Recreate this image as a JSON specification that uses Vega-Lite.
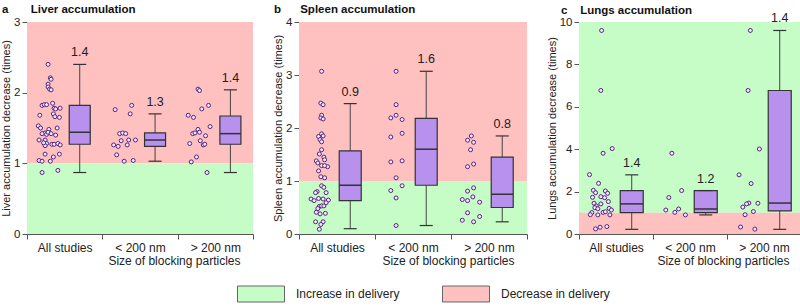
{
"$schema": "https://vega.github.io/schema/vega-lite/v6.json",
"padding": {"left": 0, "top": 4, "right": 0, "bottom": 0},
"spacing": 18,
"datasets": {
"zones": [
{"p":"a","zone":"Decrease in delivery","y0":1,"y1":3},{"p":"a","zone":"Increase in delivery","y0":0,"y1":1},
{"p":"b","zone":"Decrease in delivery","y0":1,"y1":4},{"p":"b","zone":"Increase in delivery","y0":0,"y1":1},
{"p":"c","zone":"Increase in delivery","y0":1,"y1":10},{"p":"c","zone":"Decrease in delivery","y0":0,"y1":1}
],
"boxes": [
{"p":"a","g":"All studies","lo":0.87,"q1":1.27,"med":1.44,"q3":1.82,"hi":2.40,"lab":"1.4"},
{"p":"a","g":"< 200 nm","lo":1.03,"q1":1.24,"med":1.33,"q3":1.43,"hi":1.70,"lab":"1.3"},
{"p":"a","g":"> 200 nm","lo":0.87,"q1":1.27,"med":1.42,"q3":1.67,"hi":2.04,"lab":"1.4"},
{"p":"b","g":"All studies","lo":0.10,"q1":0.63,"med":0.92,"q3":1.57,"hi":2.46,"lab":"0.9"},
{"p":"b","g":"< 200 nm","lo":0.16,"q1":0.92,"med":1.60,"q3":2.18,"hi":3.07,"lab":"1.6"},
{"p":"b","g":"> 200 nm","lo":0.23,"q1":0.50,"med":0.75,"q3":1.45,"hi":1.85,"lab":"0.8"},
{"p":"c","g":"All studies","lo":0.22,"q1":1.01,"med":1.42,"q3":2.05,"hi":2.79,"lab":"1.4"},
{"p":"c","g":"< 200 nm","lo":0.90,"q1":1.01,"med":1.18,"q3":2.05,"hi":2.05,"lab":"1.2"},
{"p":"c","g":"> 200 nm","lo":0.22,"q1":1.09,"med":1.46,"q3":6.77,"hi":9.60,"lab":"1.4"}
],
"points": [
{"p":"a","g":"All studies","v":2.40,"j":0.28},{"p":"a","g":"All studies","v":2.21,"j":0.31},{"p":"a","g":"All studies","v":2.19,"j":0.32},{"p":"a","g":"All studies","v":2.12,"j":0.28},{"p":"a","g":"All studies","v":2.08,"j":0.28},{"p":"a","g":"All studies","v":2.05,"j":0.30},{"p":"a","g":"All studies","v":2.04,"j":0.32},{"p":"a","g":"All studies","v":1.85,"j":0.34},{"p":"a","g":"All studies","v":1.82,"j":0.20},{"p":"a","g":"All studies","v":1.83,"j":0.23},{"p":"a","g":"All studies","v":1.83,"j":0.26},{"p":"a","g":"All studies","v":1.78,"j":0.36},{"p":"a","g":"All studies","v":1.77,"j":0.38},{"p":"a","g":"All studies","v":1.78,"j":0.44},{"p":"a","g":"All studies","v":1.68,"j":0.17},{"p":"a","g":"All studies","v":1.70,"j":0.35},{"p":"a","g":"All studies","v":1.66,"j":0.37},{"p":"a","g":"All studies","v":1.65,"j":0.43},{"p":"a","g":"All studies","v":1.53,"j":0.15},{"p":"a","g":"All studies","v":1.50,"j":0.18},{"p":"a","g":"All studies","v":1.50,"j":0.40},{"p":"a","g":"All studies","v":1.48,"j":0.29},{"p":"a","g":"All studies","v":1.43,"j":0.24},{"p":"a","g":"All studies","v":1.42,"j":0.20},{"p":"a","g":"All studies","v":1.41,"j":0.26},{"p":"a","g":"All studies","v":1.44,"j":0.28},{"p":"a","g":"All studies","v":1.42,"j":0.32},{"p":"a","g":"All studies","v":1.40,"j":0.38},{"p":"a","g":"All studies","v":1.33,"j":0.16},{"p":"a","g":"All studies","v":1.33,"j":0.24},{"p":"a","g":"All studies","v":1.28,"j":0.26},{"p":"a","g":"All studies","v":1.27,"j":0.33},{"p":"a","g":"All studies","v":1.27,"j":0.36},{"p":"a","g":"All studies","v":1.28,"j":0.41},{"p":"a","g":"All studies","v":1.26,"j":0.44},{"p":"a","g":"All studies","v":1.25,"j":0.24},{"p":"a","g":"All studies","v":1.29,"j":0.22},{"p":"a","g":"All studies","v":1.13,"j":0.24},{"p":"a","g":"All studies","v":1.09,"j":0.35},{"p":"a","g":"All studies","v":1.13,"j":0.43},{"p":"a","g":"All studies","v":1.04,"j":0.16},{"p":"a","g":"All studies","v":1.03,"j":0.20},{"p":"a","g":"All studies","v":1.03,"j":0.31},{"p":"a","g":"All studies","v":0.87,"j":0.20},{"p":"a","g":"All studies","v":0.90,"j":0.41},
{"p":"a","g":"< 200 nm","v":1.82,"j":0.39},{"p":"a","g":"< 200 nm","v":1.76,"j":0.17},{"p":"a","g":"< 200 nm","v":1.70,"j":0.37},{"p":"a","g":"< 200 nm","v":1.42,"j":0.23},{"p":"a","g":"< 200 nm","v":1.43,"j":0.27},{"p":"a","g":"< 200 nm","v":1.42,"j":0.31},{"p":"a","g":"< 200 nm","v":1.32,"j":0.25},{"p":"a","g":"< 200 nm","v":1.33,"j":0.35},{"p":"a","g":"< 200 nm","v":1.33,"j":0.44},{"p":"a","g":"< 200 nm","v":1.26,"j":0.15},{"p":"a","g":"< 200 nm","v":1.24,"j":0.21},{"p":"a","g":"< 200 nm","v":1.26,"j":0.33},{"p":"a","g":"< 200 nm","v":1.12,"j":0.19},{"p":"a","g":"< 200 nm","v":1.03,"j":0.29},{"p":"a","g":"< 200 nm","v":1.04,"j":0.41},
{"p":"a","g":"> 200 nm","v":2.05,"j":0.27},{"p":"a","g":"> 200 nm","v":2.03,"j":0.29},{"p":"a","g":"> 200 nm","v":1.68,"j":0.14},{"p":"a","g":"> 200 nm","v":1.65,"j":0.21},{"p":"a","g":"> 200 nm","v":1.77,"j":0.32},{"p":"a","g":"> 200 nm","v":1.82,"j":0.41},{"p":"a","g":"> 200 nm","v":1.52,"j":0.43},{"p":"a","g":"> 200 nm","v":1.48,"j":0.27},{"p":"a","g":"> 200 nm","v":1.44,"j":0.29},{"p":"a","g":"> 200 nm","v":1.42,"j":0.20},{"p":"a","g":"> 200 nm","v":1.43,"j":0.23},{"p":"a","g":"> 200 nm","v":1.39,"j":0.37},{"p":"a","g":"> 200 nm","v":1.32,"j":0.30},{"p":"a","g":"> 200 nm","v":1.28,"j":0.16},{"p":"a","g":"> 200 nm","v":1.26,"j":0.34},{"p":"a","g":"> 200 nm","v":1.27,"j":0.36},{"p":"a","g":"> 200 nm","v":1.09,"j":0.25},{"p":"a","g":"> 200 nm","v":1.02,"j":0.18},{"p":"a","g":"> 200 nm","v":0.87,"j":0.39},
{"p":"b","g":"All studies","v":3.07,"j":0.30},{"p":"b","g":"All studies","v":2.47,"j":0.29},{"p":"b","g":"All studies","v":2.44,"j":0.32},{"p":"b","g":"All studies","v":2.24,"j":0.30},{"p":"b","g":"All studies","v":2.19,"j":0.29},{"p":"b","g":"All studies","v":2.17,"j":0.32},{"p":"b","g":"All studies","v":1.89,"j":0.30},{"p":"b","g":"All studies","v":1.84,"j":0.26},{"p":"b","g":"All studies","v":1.85,"j":0.32},{"p":"b","g":"All studies","v":1.78,"j":0.28},{"p":"b","g":"All studies","v":1.74,"j":0.30},{"p":"b","g":"All studies","v":1.59,"j":0.30},{"p":"b","g":"All studies","v":1.51,"j":0.27},{"p":"b","g":"All studies","v":1.45,"j":0.33},{"p":"b","g":"All studies","v":1.40,"j":0.34},{"p":"b","g":"All studies","v":1.38,"j":0.23},{"p":"b","g":"All studies","v":1.34,"j":0.25},{"p":"b","g":"All studies","v":1.29,"j":0.30},{"p":"b","g":"All studies","v":1.27,"j":0.38},{"p":"b","g":"All studies","v":1.29,"j":0.34},{"p":"b","g":"All studies","v":1.19,"j":0.26},{"p":"b","g":"All studies","v":1.08,"j":0.29},{"p":"b","g":"All studies","v":1.06,"j":0.34},{"p":"b","g":"All studies","v":0.91,"j":0.30},{"p":"b","g":"All studies","v":0.88,"j":0.33},{"p":"b","g":"All studies","v":0.80,"j":0.24},{"p":"b","g":"All studies","v":0.78,"j":0.22},{"p":"b","g":"All studies","v":0.78,"j":0.36},{"p":"b","g":"All studies","v":0.67,"j":0.26},{"p":"b","g":"All studies","v":0.66,"j":0.32},{"p":"b","g":"All studies","v":0.64,"j":0.39},{"p":"b","g":"All studies","v":0.66,"j":0.16},{"p":"b","g":"All studies","v":0.63,"j":0.20},{"p":"b","g":"All studies","v":0.59,"j":0.36},{"p":"b","g":"All studies","v":0.52,"j":0.27},{"p":"b","g":"All studies","v":0.53,"j":0.30},{"p":"b","g":"All studies","v":0.53,"j":0.33},{"p":"b","g":"All studies","v":0.48,"j":0.25},{"p":"b","g":"All studies","v":0.41,"j":0.23},{"p":"b","g":"All studies","v":0.39,"j":0.35},{"p":"b","g":"All studies","v":0.38,"j":0.28},{"p":"b","g":"All studies","v":0.23,"j":0.22},{"p":"b","g":"All studies","v":0.23,"j":0.32},{"p":"b","g":"All studies","v":0.18,"j":0.29},{"p":"b","g":"All studies","v":0.09,"j":0.27},
{"p":"b","g":"< 200 nm","v":3.07,"j":0.28},{"p":"b","g":"< 200 nm","v":2.44,"j":0.28},{"p":"b","g":"< 200 nm","v":2.19,"j":0.21},{"p":"b","g":"< 200 nm","v":2.24,"j":0.28},{"p":"b","g":"< 200 nm","v":2.16,"j":0.36},{"p":"b","g":"< 200 nm","v":1.90,"j":0.36},{"p":"b","g":"< 200 nm","v":1.83,"j":0.21},{"p":"b","g":"< 200 nm","v":1.36,"j":0.21},{"p":"b","g":"< 200 nm","v":1.38,"j":0.36},{"p":"b","g":"< 200 nm","v":1.06,"j":0.28},{"p":"b","g":"< 200 nm","v":0.91,"j":0.36},{"p":"b","g":"< 200 nm","v":0.82,"j":0.21},{"p":"b","g":"< 200 nm","v":0.68,"j":0.28},{"p":"b","g":"< 200 nm","v":0.16,"j":0.28},
{"p":"b","g":"> 200 nm","v":1.85,"j":0.27},{"p":"b","g":"> 200 nm","v":1.77,"j":0.22},{"p":"b","g":"> 200 nm","v":1.73,"j":0.30},{"p":"b","g":"> 200 nm","v":1.59,"j":0.26},{"p":"b","g":"> 200 nm","v":1.32,"j":0.30},{"p":"b","g":"> 200 nm","v":1.27,"j":0.22},{"p":"b","g":"> 200 nm","v":0.87,"j":0.30},{"p":"b","g":"> 200 nm","v":0.81,"j":0.22},{"p":"b","g":"> 200 nm","v":0.70,"j":0.29},{"p":"b","g":"> 200 nm","v":0.65,"j":0.15},{"p":"b","g":"> 200 nm","v":0.63,"j":0.22},{"p":"b","g":"> 200 nm","v":0.60,"j":0.38},{"p":"b","g":"> 200 nm","v":0.40,"j":0.22},{"p":"b","g":"> 200 nm","v":0.33,"j":0.38},{"p":"b","g":"> 200 nm","v":0.26,"j":0.15},{"p":"b","g":"> 200 nm","v":0.23,"j":0.30},
{"p":"c","g":"All studies","v":9.60,"j":0.30},{"p":"c","g":"All studies","v":6.77,"j":0.29},{"p":"c","g":"All studies","v":4.03,"j":0.44},{"p":"c","g":"All studies","v":3.81,"j":0.32},{"p":"c","g":"All studies","v":2.80,"j":0.14},{"p":"c","g":"All studies","v":2.39,"j":0.26},{"p":"c","g":"All studies","v":2.06,"j":0.19},{"p":"c","g":"All studies","v":1.95,"j":0.22},{"p":"c","g":"All studies","v":2.03,"j":0.35},{"p":"c","g":"All studies","v":1.92,"j":0.38},{"p":"c","g":"All studies","v":1.76,"j":0.29},{"p":"c","g":"All studies","v":1.71,"j":0.34},{"p":"c","g":"All studies","v":1.73,"j":0.18},{"p":"c","g":"All studies","v":1.53,"j":0.39},{"p":"c","g":"All studies","v":1.42,"j":0.29},{"p":"c","g":"All studies","v":1.45,"j":0.20},{"p":"c","g":"All studies","v":1.32,"j":0.23},{"p":"c","g":"All studies","v":1.24,"j":0.21},{"p":"c","g":"All studies","v":1.19,"j":0.25},{"p":"c","g":"All studies","v":1.21,"j":0.40},{"p":"c","g":"All studies","v":1.13,"j":0.43},{"p":"c","g":"All studies","v":1.02,"j":0.32},{"p":"c","g":"All studies","v":1.05,"j":0.35},{"p":"c","g":"All studies","v":1.01,"j":0.17},{"p":"c","g":"All studies","v":0.91,"j":0.15},{"p":"c","g":"All studies","v":0.90,"j":0.25},{"p":"c","g":"All studies","v":0.90,"j":0.41},{"p":"c","g":"All studies","v":0.35,"j":0.37},{"p":"c","g":"All studies","v":0.32,"j":0.28},{"p":"c","g":"All studies","v":0.24,"j":0.22},
{"p":"c","g":"< 200 nm","v":3.81,"j":0.25},{"p":"c","g":"< 200 nm","v":2.05,"j":0.38},{"p":"c","g":"< 200 nm","v":1.72,"j":0.21},{"p":"c","g":"< 200 nm","v":1.13,"j":0.17},{"p":"c","g":"< 200 nm","v":1.18,"j":0.34},{"p":"c","g":"< 200 nm","v":1.02,"j":0.29},{"p":"c","g":"< 200 nm","v":0.90,"j":0.43},
{"p":"c","g":"> 200 nm","v":9.60,"j":0.31},{"p":"c","g":"> 200 nm","v":6.77,"j":0.28},{"p":"c","g":"> 200 nm","v":4.01,"j":0.43},{"p":"c","g":"> 200 nm","v":2.79,"j":0.16},{"p":"c","g":"> 200 nm","v":2.38,"j":0.32},{"p":"c","g":"> 200 nm","v":1.46,"j":0.29},{"p":"c","g":"> 200 nm","v":1.42,"j":0.26},{"p":"c","g":"> 200 nm","v":1.45,"j":0.41},{"p":"c","g":"> 200 nm","v":1.27,"j":0.21},{"p":"c","g":"> 200 nm","v":1.06,"j":0.35},{"p":"c","g":"> 200 nm","v":0.91,"j":0.24},{"p":"c","g":"> 200 nm","v":0.33,"j":0.18},{"p":"c","g":"> 200 nm","v":0.23,"j":0.37}
]
},
"hconcat": [
{
"width": 226, "height": 212,
"title": {"text": "a\u00a0\u00a0\u00a0\u00a0\u00a0\u00a0\u00a0Liver accumulation", "dx": -25, "offset": 0.1},
"layer": [
{"data": {"name": "zones"}, "transform": [{"filter": "datum.p === 'a'"}], "mark": {"type": "rect"},
 "encoding": {"y": {"field": "y0", "type": "quantitative", "scale": {"domain": [0, 3], "nice": false}, "axis": {"values": [0, 1, 2, 3], "format": "d", "title": "Liver accumulation decrease (times)"}}, "y2": {"field": "y1"},
 "color": {"field": "zone", "type": "nominal", "scale": {"domain": ["Increase in delivery", "Decrease in delivery"], "range": ["#c6fcc6", "#ffc0c0"]}, "legend": {"orient": "none", "legendX": 210, "legendY": 248, "direction": "horizontal", "title": null, "symbolType": "M-1,-0.34H1V0.34H-1Z", "symbolSize": 2209, "symbolStrokeColor": "#666", "symbolStrokeWidth": 1, "labelFontSize": 12, "labelOffset": 11, "columnPadding": 40, "labelColor": "#222", "labelFont": "Liberation Sans"}}}},
{"data": {"name": "points"}, "transform": [{"filter": "datum.p === 'a'"}], "mark": {"type": "point", "shape": "circle", "size": 16, "filled": true, "fill": "#f1e8fc", "stroke": "#55247f", "strokeWidth": 1, "opacity": 1},
 "encoding": {"x": {"field": "g", "type": "nominal", "scale": {"domain": ["All studies", "< 200 nm", "> 200 nm"], "paddingInner": 0, "paddingOuter": 0}, "axis": {"labelAngle": 0, "tickBand": "extent", "title": "Size of blocking particles", "titleAlign": "right", "titleX": 213}},
 "xOffset": {"field": "j", "type": "quantitative", "scale": {"domain": [0, 1]}}, "y": {"field": "v", "type": "quantitative"}}},
{"data": {"name": "boxes"}, "transform": [{"filter": "datum.p === 'a'"}],
 "encoding": {"x": {"field": "g", "type": "nominal"}, "xOffset": {"datum": 0.7, "type": "quantitative", "scale": {"domain": [0, 1]}}},
 "layer": [
 {"mark": {"type": "rule", "color": "#444", "strokeWidth": 1}, "encoding": {"y": {"field": "lo", "type": "quantitative"}, "y2": {"field": "hi"}}},
 {"mark": {"type": "bar", "width": 21, "fill": "#b891ee", "stroke": "#333", "strokeWidth": 1.2}, "encoding": {"y": {"field": "q1", "type": "quantitative"}, "y2": {"field": "q3"}}},
 {"mark": {"type": "point", "shape": "M-1,0H1", "size": 441, "stroke": "#333", "strokeWidth": 1.5, "opacity": 1}, "encoding": {"y": {"field": "med", "type": "quantitative"}}},
 {"mark": {"type": "point", "shape": "M-1,0H1", "size": 169, "stroke": "#333", "strokeWidth": 1.2, "opacity": 1}, "encoding": {"y": {"field": "lo", "type": "quantitative"}}},
 {"mark": {"type": "point", "shape": "M-1,0H1", "size": 169, "stroke": "#333", "strokeWidth": 1.2, "opacity": 1}, "encoding": {"y": {"field": "hi", "type": "quantitative"}}},
 {"mark": {"type": "text", "baseline": "bottom", "dy": -5, "fontSize": 12.5, "color": "#222"}, "encoding": {"y": {"field": "hi", "type": "quantitative"}, "text": {"field": "lab"}}}
 ]}
]
},
{
"width": 228, "height": 212,
"title": {"text": "b\u00a0\u00a0\u00a0\u00a0\u00a0\u00a0Spleen accumulation", "dx": -25, "offset": 0.1},
"layer": [
{"data": {"name": "zones"}, "transform": [{"filter": "datum.p === 'b'"}], "mark": {"type": "rect"},
 "encoding": {"y": {"field": "y0", "type": "quantitative", "scale": {"domain": [0, 4], "nice": false}, "axis": {"values": [0, 1, 2, 3, 4], "format": "d", "title": "Spleen accumulation decrease (times)"}}, "y2": {"field": "y1"},
 "color": {"field": "zone", "type": "nominal", "scale": {"domain": ["Increase in delivery", "Decrease in delivery"], "range": ["#c6fcc6", "#ffc0c0"]}, "legend": {"orient": "none", "legendX": 210, "legendY": 248, "direction": "horizontal", "title": null, "symbolType": "M-1,-0.34H1V0.34H-1Z", "symbolSize": 2209, "symbolStrokeColor": "#666", "symbolStrokeWidth": 1, "labelFontSize": 12, "labelOffset": 11, "columnPadding": 40, "labelColor": "#222", "labelFont": "Liberation Sans"}}}},
{"data": {"name": "points"}, "transform": [{"filter": "datum.p === 'b'"}], "mark": {"type": "point", "shape": "circle", "size": 16, "filled": true, "fill": "#f1e8fc", "stroke": "#55247f", "strokeWidth": 1, "opacity": 1},
 "encoding": {"x": {"field": "g", "type": "nominal", "scale": {"domain": ["All studies", "< 200 nm", "> 200 nm"], "paddingInner": 0, "paddingOuter": 0}, "axis": {"labelAngle": 0, "tickBand": "extent", "title": "Size of blocking particles", "titleAlign": "right", "titleX": 215}},
 "xOffset": {"field": "j", "type": "quantitative", "scale": {"domain": [0, 1]}}, "y": {"field": "v", "type": "quantitative"}}},
{"data": {"name": "boxes"}, "transform": [{"filter": "datum.p === 'b'"}],
 "encoding": {"x": {"field": "g", "type": "nominal"}, "xOffset": {"datum": 0.68, "type": "quantitative", "scale": {"domain": [0, 1]}}},
 "layer": [
 {"mark": {"type": "rule", "color": "#444", "strokeWidth": 1}, "encoding": {"y": {"field": "lo", "type": "quantitative"}, "y2": {"field": "hi"}}},
 {"mark": {"type": "bar", "width": 22, "fill": "#b891ee", "stroke": "#333", "strokeWidth": 1.2}, "encoding": {"y": {"field": "q1", "type": "quantitative"}, "y2": {"field": "q3"}}},
 {"mark": {"type": "point", "shape": "M-1,0H1", "size": 484, "stroke": "#333", "strokeWidth": 1.5, "opacity": 1}, "encoding": {"y": {"field": "med", "type": "quantitative"}}},
 {"mark": {"type": "point", "shape": "M-1,0H1", "size": 169, "stroke": "#333", "strokeWidth": 1.2, "opacity": 1}, "encoding": {"y": {"field": "lo", "type": "quantitative"}}},
 {"mark": {"type": "point", "shape": "M-1,0H1", "size": 169, "stroke": "#333", "strokeWidth": 1.2, "opacity": 1}, "encoding": {"y": {"field": "hi", "type": "quantitative"}}},
 {"mark": {"type": "text", "baseline": "bottom", "dy": -5, "fontSize": 12.5, "color": "#222"}, "encoding": {"y": {"field": "hi", "type": "quantitative"}, "text": {"field": "lab"}}}
 ]}
]
},
{
"width": 222, "height": 212,
"title": {"text": "c\u00a0\u00a0\u00a0\u00a0Lungs accumulation", "dx": -18, "offset": -3.9},
"layer": [
{"data": {"name": "zones"}, "transform": [{"filter": "datum.p === 'c'"}], "mark": {"type": "rect"},
 "encoding": {"y": {"field": "y0", "type": "quantitative", "scale": {"domain": [0, 10], "nice": false}, "axis": {"values": [0, 2, 4, 6, 8, 10], "format": "d", "title": "Lungs accumulation decrease (times)"}}, "y2": {"field": "y1"},
 "color": {"field": "zone", "type": "nominal", "scale": {"domain": ["Increase in delivery", "Decrease in delivery"], "range": ["#c6fcc6", "#ffc0c0"]}, "legend": {"orient": "none", "legendX": 210, "legendY": 248, "direction": "horizontal", "title": null, "symbolType": "M-1,-0.34H1V0.34H-1Z", "symbolSize": 2209, "symbolStrokeColor": "#666", "symbolStrokeWidth": 1, "labelFontSize": 12, "labelOffset": 11, "columnPadding": 40, "labelColor": "#222", "labelFont": "Liberation Sans"}}}},
{"data": {"name": "points"}, "transform": [{"filter": "datum.p === 'c'"}], "mark": {"type": "point", "shape": "circle", "size": 16, "filled": true, "fill": "#f1e8fc", "stroke": "#55247f", "strokeWidth": 1, "opacity": 1},
 "encoding": {"x": {"field": "g", "type": "nominal", "scale": {"domain": ["All studies", "< 200 nm", "> 200 nm"], "paddingInner": 0, "paddingOuter": 0}, "axis": {"labelAngle": 0, "tickBand": "extent", "title": "Size of blocking particles", "titleAlign": "right", "titleX": 210}},
 "xOffset": {"field": "j", "type": "quantitative", "scale": {"domain": [0, 1]}}, "y": {"field": "v", "type": "quantitative"}}},
{"data": {"name": "boxes"}, "transform": [{"filter": "datum.p === 'c'"}],
 "encoding": {"x": {"field": "g", "type": "nominal"}, "xOffset": {"datum": 0.7, "type": "quantitative", "scale": {"domain": [0, 1]}}},
 "layer": [
 {"mark": {"type": "rule", "color": "#444", "strokeWidth": 1}, "encoding": {"y": {"field": "lo", "type": "quantitative"}, "y2": {"field": "hi"}}},
 {"mark": {"type": "bar", "width": 23, "fill": "#b891ee", "stroke": "#333", "strokeWidth": 1.2}, "encoding": {"y": {"field": "q1", "type": "quantitative"}, "y2": {"field": "q3"}}},
 {"mark": {"type": "point", "shape": "M-1,0H1", "size": 529, "stroke": "#333", "strokeWidth": 1.5, "opacity": 1}, "encoding": {"y": {"field": "med", "type": "quantitative"}}},
 {"mark": {"type": "point", "shape": "M-1,0H1", "size": 169, "stroke": "#333", "strokeWidth": 1.2, "opacity": 1}, "encoding": {"y": {"field": "lo", "type": "quantitative"}}},
 {"mark": {"type": "point", "shape": "M-1,0H1", "size": 169, "stroke": "#333", "strokeWidth": 1.2, "opacity": 1}, "encoding": {"y": {"field": "hi", "type": "quantitative"}}},
 {"mark": {"type": "text", "baseline": "bottom", "dy": -5, "fontSize": 12.5, "color": "#222"}, "encoding": {"y": {"field": "hi", "type": "quantitative"}, "text": {"field": "lab"}}}
 ]}
]
}
],
"resolve": {"scale": {"color": "shared"}, "legend": {"color": "shared"}},
"config": {
 "font": "Liberation Sans",
 "view": {"stroke": null},
 "title": {"anchor": "start", "frame": "group", "fontSize": 11.5, "fontWeight": "bold", "color": "#111", "offset": 0.1},
 "axis": {"grid": false, "labelFontSize": 11.5, "titleFontSize": 11, "titleFontWeight": "normal", "labelColor": "#222", "titleColor": "#222", "domainColor": "#555", "tickColor": "#555", "tickSize": 5, "labelPadding": 2, "titlePadding": 2},
 "axisX": {"labelFontSize": 12, "titleFontSize": 12, "titlePadding": 2, "labelPadding": 3}
}
}
